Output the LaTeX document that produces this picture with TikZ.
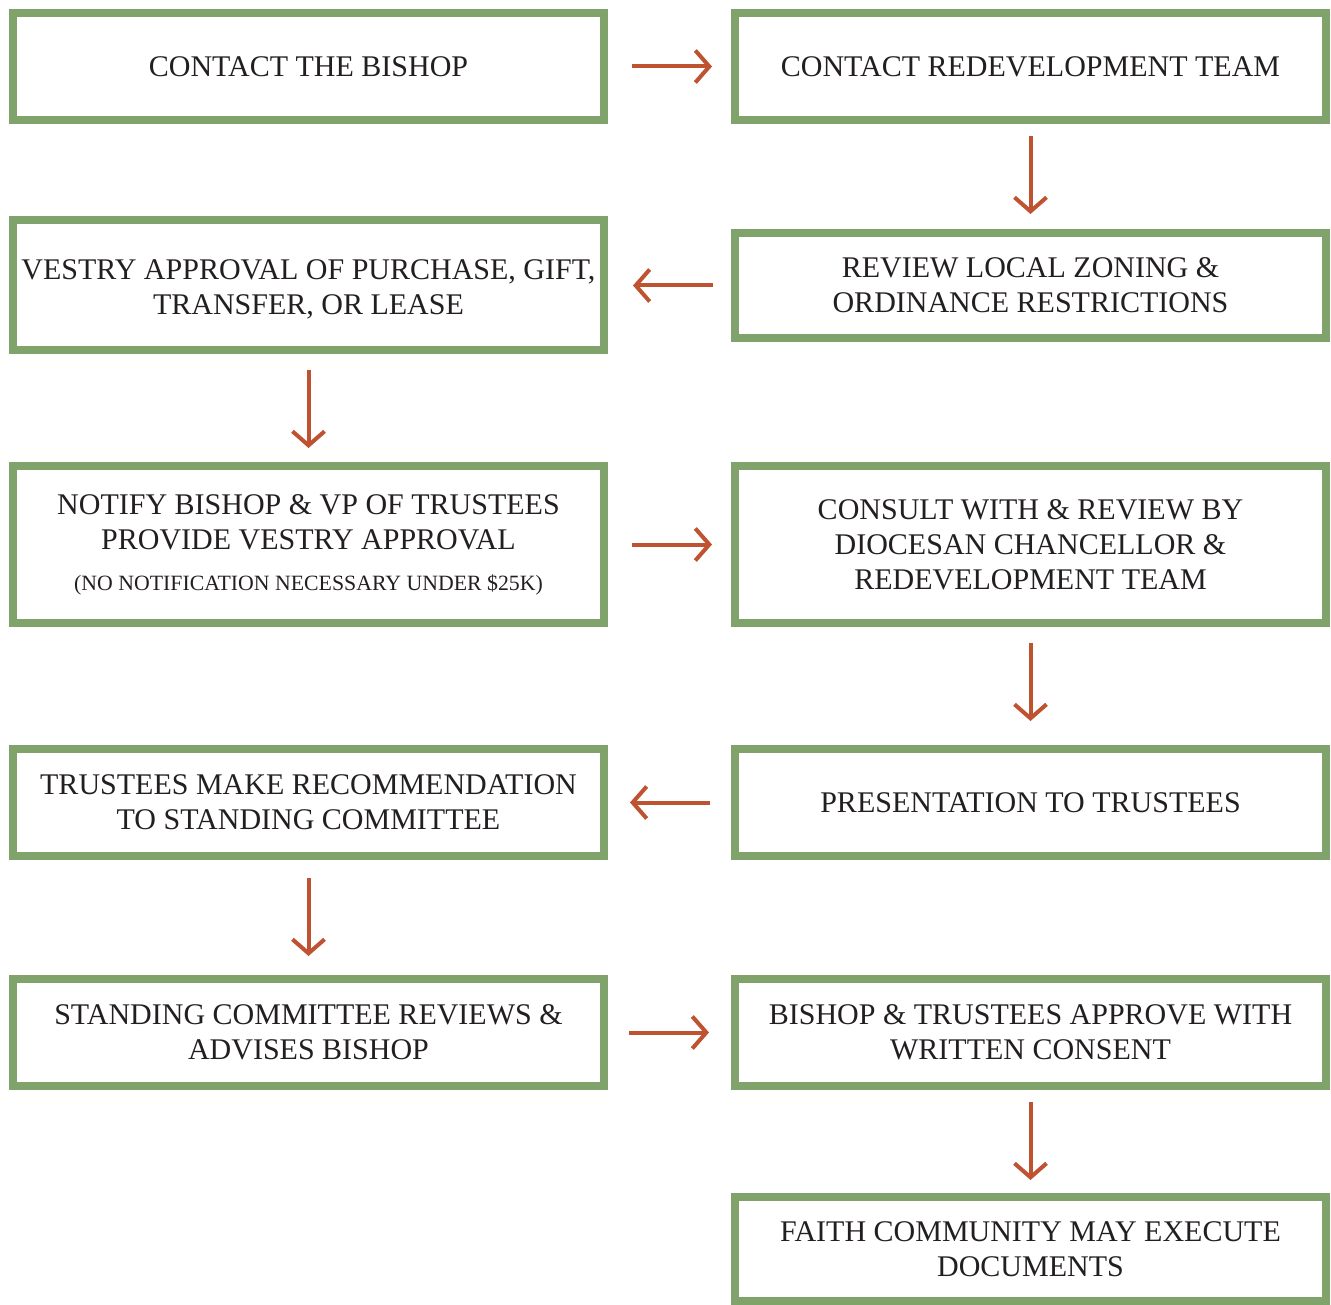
\documentclass[tikz,border=0pt]{standalone}
\usepackage{fontspec}
\setmainfont{Liberation Serif}
\usetikzlibrary{arrows.meta}
\definecolor{boxgreen}{HTML}{7FA36B}
\definecolor{arrowred}{HTML}{BF5230}
\definecolor{txt}{HTML}{231F20}
\tikzset{
  flowbox/.style={draw=boxgreen, line width=8pt, fill=white, minimum width=591pt,
    align=center, font=\fontsize{30}{35}\selectfont, text=txt, inner sep=0pt},
  flowarr/.style={draw=arrowred, line width=4pt, -{Straight Barb[length=14pt,width=32pt]}}
}
\begin{document}
\begin{tikzpicture}[x=1pt,y=-1pt]
\useasboundingbox (0,0) rectangle (1331,1305);
% left column x=308.5, right column x=1030.5
\node[flowbox, minimum height=107pt] (b1) at (308.5,66.5) {CONTACT THE BISHOP};
\node[flowbox, minimum height=107pt] (b2) at (1030.5,66.5) {CONTACT REDEVELOPMENT TEAM};
\node[flowbox, minimum height=105pt] (b3) at (1030.5,285.5) {REVIEW LOCAL ZONING \&\\ORDINANCE RESTRICTIONS};
\node[flowbox, minimum height=130pt] (b4) at (308.5,285) {\rule{0pt}{29pt}VESTRY APPROVAL OF PURCHASE, GIFT,\\TRANSFER, OR LEASE};
\node[flowbox, minimum height=157pt] (b5) at (308.5,544.5) {NOTIFY BISHOP \& VP OF TRUSTEES\\PROVIDE VESTRY APPROVAL\\[6pt]{\fontsize{21.8}{24}\selectfont (NO NOTIFICATION NECESSARY UNDER \$25K)}};
\node[flowbox, minimum height=157pt] (b6) at (1030.5,544.5) {CONSULT WITH \& REVIEW BY\\DIOCESAN CHANCELLOR \&\\REDEVELOPMENT TEAM};
\node[flowbox, minimum height=107pt] (b7) at (1030.5,802.5) {PRESENTATION TO TRUSTEES};
\node[flowbox, minimum height=107pt] (b8) at (308.5,802.5) {TRUSTEES MAKE RECOMMENDATION\\TO STANDING COMMITTEE};
\node[flowbox, minimum height=107pt] (b9) at (308.5,1032.5) {STANDING COMMITTEE REVIEWS \&\\ADVISES BISHOP};
\node[flowbox, minimum height=107pt] (b10) at (1030.5,1032.5) {BISHOP \& TRUSTEES APPROVE WITH\\WRITTEN CONSENT};
\node[flowbox, minimum height=104pt] (b11) at (1030.5,1249) {FAITH COMMUNITY MAY EXECUTE\\DOCUMENTS};
% connectors
\draw[flowarr, shorten <=24pt, shorten >=19pt] (b1.east) -- (b2.west);
\draw[flowarr, shorten <=12pt, shorten >=15pt] (b2.south) -- (b3.north);
\draw[flowarr, shorten <=18pt, shorten >=25pt] (b3.west) -- (b3.west -| b4.east);
\draw[flowarr, shorten <=16pt, shorten >=14pt] (b4.south) -- (b5.north);
\draw[flowarr, shorten <=24pt, shorten >=19pt] (b5.east) -- (b6.west);
\draw[flowarr, shorten <=16pt, shorten >=24pt] (b6.south) -- (b7.north);
\draw[flowarr, shorten <=21pt, shorten >=22pt] (b7.west) -- (b8.east);
\draw[flowarr, shorten <=18pt, shorten >=19pt] (b8.south) -- (b9.north);
\draw[flowarr, shorten <=21pt, shorten >=22pt] (b9.east) -- (b10.west);
\draw[flowarr, shorten <=12pt, shorten >=13pt] (b10.south) -- (b11.north);
\end{tikzpicture}
\end{document}
